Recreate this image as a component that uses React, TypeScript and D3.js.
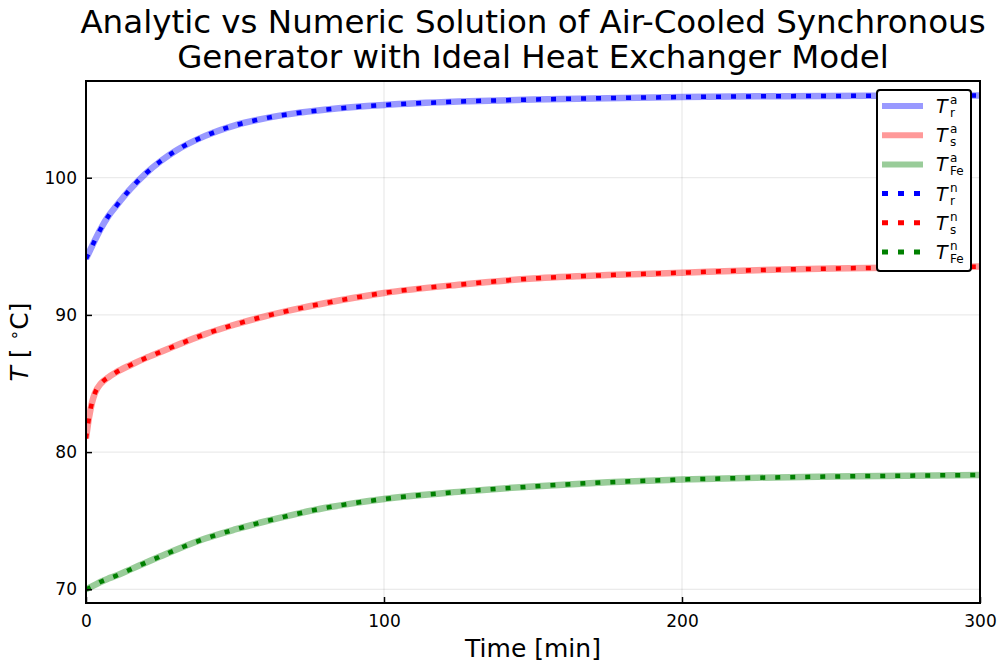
import React, { useEffect, useRef } from 'react';
import * as d3 from 'd3';

// time grid [min] shared by all series
const time = [0, 1, 2, 3, 5, 7.5, 10, 15, 20, 25, 30, 40, 50, 60, 70, 80, 90, 100, 125, 150, 175, 200, 225, 250, 275, 300];

// rotor, stator and iron temperatures [°C]
const rotorTemp = [94.1, 94.55, 95.0, 95.45, 96.3, 97.2, 97.9, 99.2, 100.3, 101.2, 101.95, 103.05, 103.82, 104.33, 104.69, 104.95, 105.15, 105.3, 105.55, 105.7, 105.8, 105.88, 105.93, 105.96, 105.98, 106.0];
const statorTemp = [81.0, 82.5, 83.6, 84.3, 85.0, 85.45, 85.8, 86.35, 86.85, 87.3, 87.75, 88.6, 89.3, 89.9, 90.4, 90.85, 91.25, 91.6, 92.2, 92.65, 92.9, 93.08, 93.26, 93.38, 93.46, 93.52];
const ironTemp = [70.0, 70.1, 70.21, 70.32, 70.55, 70.78, 70.98, 71.45, 71.93, 72.4, 72.86, 73.7, 74.36, 74.94, 75.46, 75.92, 76.28, 76.58, 77.1, 77.5, 77.8, 78.0, 78.13, 78.22, 78.28, 78.33];

const xTicks = [0, 100, 200, 300];
const yTicks = [70, 80, 90, 100];

const seriesColors = ['#0000ff', '#ff0000', '#008000'];
const seriesSubs = ['r', 's', 'Fe'];

const FONT = 'DejaVu Sans, sans-serif';

const App = () => {
  const svgRef = useRef(null);

  useEffect(() => {
    const width = 1000;
    const height = 664;
    const margin = { top: 81, right: 20, bottom: 61, left: 86 };

    const svg = d3.select(svgRef.current);
    svg.selectAll('*').remove();

    const x = d3.scaleLinear().domain([0, 300]).range([margin.left, width - margin.right]);
    const y = d3.scaleLinear().domain([69.0, 107.05]).range([height - margin.bottom, margin.top]);

    const x0 = margin.left;
    const x1 = width - margin.right;
    const y0 = height - margin.bottom;
    const y1 = margin.top;

    // grid
    svg.append('g')
      .selectAll('line')
      .data(xTicks)
      .enter()
      .append('line')
      .attr('x1', (d) => x(d))
      .attr('x2', (d) => x(d))
      .attr('y1', y0)
      .attr('y2', y1)
      .attr('stroke', '#000')
      .attr('stroke-opacity', 0.1)
      .attr('stroke-width', 1);

    svg.append('g')
      .selectAll('line')
      .data(yTicks)
      .enter()
      .append('line')
      .attr('x1', x0)
      .attr('x2', x1)
      .attr('y1', (d) => y(d))
      .attr('y2', (d) => y(d))
      .attr('stroke', '#000')
      .attr('stroke-opacity', 0.1)
      .attr('stroke-width', 1);

    svg.append('defs')
      .append('clipPath')
      .attr('id', 'plotClip')
      .append('rect')
      .attr('x', x0)
      .attr('y', y1)
      .attr('width', x1 - x0)
      .attr('height', y0 - y1);

    const series = [rotorTemp, statorTemp, ironTemp];
    const line = d3.line()
      .x((d) => x(d[0]))
      .y((d) => y(d[1]))
      .curve(d3.curveMonotoneX);

    const plot = svg.append('g').attr('clip-path', 'url(#plotClip)');

    // analytic: thick translucent lines
    series.forEach((vals, i) => {
      plot.append('path')
        .datum(time.map((t, k) => [t, vals[k]]))
        .attr('d', line)
        .attr('fill', 'none')
        .attr('stroke', seriesColors[i])
        .attr('stroke-opacity', 0.4)
        .attr('stroke-width', 6.5);
    });

    // numeric: dotted lines
    series.forEach((vals, i) => {
      plot.append('path')
        .datum(time.map((t, k) => [t, vals[k]]))
        .attr('d', line)
        .attr('fill', 'none')
        .attr('stroke', seriesColors[i])
        .attr('stroke-width', 4.5)
        .attr('stroke-dasharray', '5 10');
    });

    // axes
    const xAxis = d3.axisBottom(x).tickValues(xTicks).tickSizeInner(-6).tickSizeOuter(0).tickPadding(12);
    const yAxis = d3.axisLeft(y).tickValues(yTicks).tickSizeInner(-6).tickSizeOuter(0).tickPadding(9);

    const gx = svg.append('g').attr('transform', `translate(0, ${y0})`).call(xAxis);
    const gy = svg.append('g').attr('transform', `translate(${x0}, 0)`).call(yAxis);
    [gx, gy].forEach((g) => {
      g.select('.domain').remove();
      g.selectAll('.tick line').attr('stroke', '#000').attr('stroke-width', 1.5);
      g.selectAll('.tick text')
        .attr('fill', '#000')
        .style('font-family', FONT)
        .style('font-size', '17px');
    });

    // frame
    svg.append('rect')
      .attr('x', x0)
      .attr('y', y1)
      .attr('width', x1 - x0)
      .attr('height', y0 - y1)
      .attr('fill', 'none')
      .attr('stroke', '#000')
      .attr('stroke-width', 2);

    // title
    const title = svg.append('text')
      .attr('text-anchor', 'middle')
      .style('font-family', FONT)
      .style('font-size', '32.5px')
      .attr('fill', '#000');
    title.append('tspan').attr('x', (x0 + x1) / 2).attr('y', 33).text('Analytic vs Numeric Solution of Air-Cooled Synchronous');
    title.append('tspan').attr('x', (x0 + x1) / 2).attr('y', 68).text('Generator with Ideal Heat Exchanger Model');

    // axis labels
    svg.append('text')
      .attr('x', (x0 + x1) / 2)
      .attr('y', 657)
      .attr('text-anchor', 'middle')
      .style('font-family', FONT)
      .style('font-size', '25px')
      .text('Time [min]');

    const yl = svg.append('text')
      .attr('transform', `translate(28, ${(y0 + y1) / 2}) rotate(-90)`)
      .attr('text-anchor', 'middle')
      .style('font-family', FONT)
      .style('font-size', '25px');
    yl.append('tspan').style('font-style', 'italic').text('T');
    yl.append('tspan').text(' [ ');
    yl.append('tspan').attr('dy', -8).style('font-size', '17px').text('∘');
    yl.append('tspan').attr('dy', 8).text('C]');

    // legend
    const legendX = 877;
    const legendY = 90;
    const rowH = 29.2;
    const legend = svg.append('g');
    legend.append('rect')
      .attr('x', legendX)
      .attr('y', legendY)
      .attr('width', 94)
      .attr('height', 181)
      .attr('rx', 3)
      .attr('fill', '#fff')
      .attr('stroke', '#000')
      .attr('stroke-width', 2);

    const entries = [];
    ['a', 'n'].forEach((sup) => {
      seriesColors.forEach((c, i) => entries.push({ sup, color: c, sub: seriesSubs[i] }));
    });

    entries.forEach((e, i) => {
      const cy = legendY + 16 + i * rowH;
      const row = legend.append('g');
      const sample = row.append('line')
        .attr('x1', legendX + 5)
        .attr('x2', legendX + 46)
        .attr('y1', cy)
        .attr('y2', cy)
        .attr('stroke', e.color);
      if (e.sup === 'a') {
        sample.attr('stroke-width', 6).attr('stroke-opacity', 0.4);
      } else {
        sample.attr('stroke-width', 5).attr('stroke-dasharray', '6 10');
        sample.attr('x1', legendX + 5).attr('x2', legendX + 48);
      }
      row.append('text')
        .attr('x', legendX + 59)
        .attr('y', cy + 7)
        .style('font-family', FONT)
        .style('font-size', '19px')
        .style('font-style', 'italic')
        .text('T');
      row.append('text')
        .attr('x', legendX + 73)
        .attr('y', cy - 2)
        .style('font-family', FONT)
        .style('font-size', '12px')
        .text(e.sup);
      row.append('text')
        .attr('x', legendX + 73)
        .attr('y', cy + 11)
        .style('font-family', FONT)
        .style('font-size', '12px')
        .text(e.sub);
    });
  }, []);

  return (
    <svg
      ref={svgRef}
      width={1000}
      height={664}
      style={{ position: 'absolute', left: 0, top: 0, background: '#fff' }}
    ></svg>
  );
};

export default App;
